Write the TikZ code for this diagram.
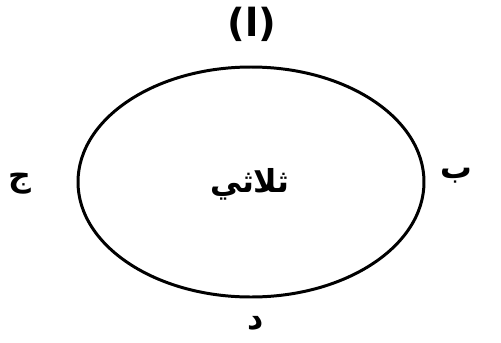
\documentclass[tikz,border=0pt]{standalone}
\usepackage{fontspec}
\newfontfamily\arabicfont[Script=Arabic]{DejaVu Sans}
\TeXXeTstate=1
\usetikzlibrary{shapes.geometric}
\tikzset{
  lbl/.style={font=\arabicfont\bfseries\fontsize{18}{21}\selectfont, inner sep=0pt},
}
\begin{document}
\begin{tikzpicture}[x=0.02cm, y=-0.02cm]

		% Fix the page to the reference size
		\useasboundingbox (0,0) rectangle (501,342);

		% The ellipse
		\node[ellipse, draw, line width=1.7pt, minimum width=346*0.02cm, minimum height=230*0.02cm, inner sep=0pt] (ring) at (251,182) {};

		% Label in the middle
		\node[lbl] (mid) at (250,184) {\beginR ثلاثي\endR};

		% Labels round the ellipse
		\node[lbl, font=\arabicfont\bfseries\fontsize{22}{26}\selectfont] (top) at (252,24) {\beginR (ا)\endR};
		\node[lbl] (right) at (456,176) {\beginR ب\endR};
		\node[lbl] (left) at (20,184) {\beginR ج\endR};
		\node[lbl] (bottom) at (256,323) {\beginR د\endR};

\end{tikzpicture}
\end{document}
